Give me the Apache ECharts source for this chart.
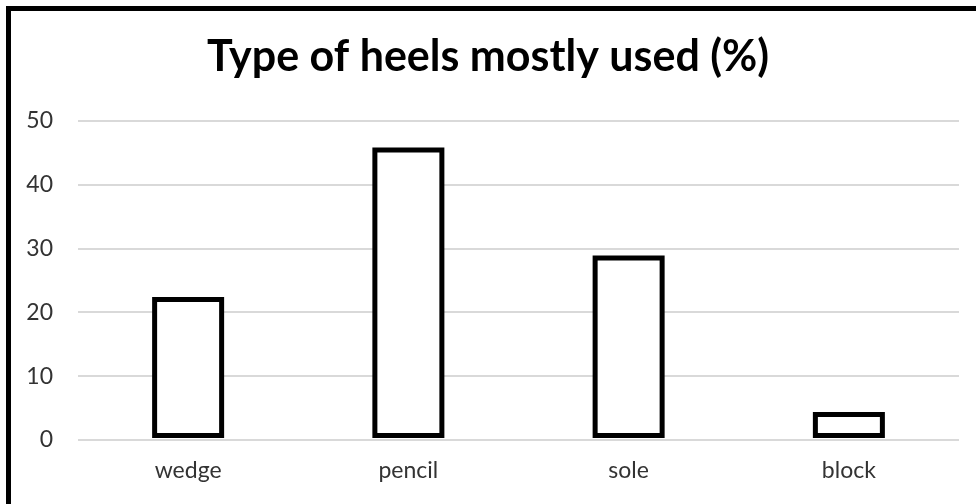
<!DOCTYPE html>
<html>
<head>
<meta charset="utf-8">
<script src="https://cdn.jsdelivr.net/npm/echarts@6/dist/echarts.min.js"></script>
<style>
  html, body { margin: 0; padding: 0; background: #fff; }
  #chart { width: 976px; height: 504px; }
</style>
</head>
<body>
<div id="chart"></div>
<script>
// Heel types and the share of respondents using each (%)
const categories = ['wedge', 'pencil', 'sole', 'block'];
const shares = [22, 45.4, 28.5, 4];
const yTicks = { min: 0, max: 50, interval: 10 };

const chart = echarts.init(document.getElementById('chart'), null, { renderer: 'canvas' });

// Outlined column: stroke centred on the value edge, base kept just above the zero line
function renderColumn(params, api) {
  const top = api.coord([api.value(0), api.value(1)]);
  const base = api.coord([api.value(0), 0]);
  const w = 67;
  return {
    type: 'rect',
    shape: { x: top[0] - w / 2, y: top[1], width: w, height: base[1] - top[1] - 4.5 },
    style: { fill: '#ffffff', stroke: '#000000', lineWidth: 5, lineJoin: 'miter' }
  };
}

chart.setOption({
  backgroundColor: '#ffffff',
  animation: false,
  title: {
    text: 'Type of heels mostly used (%)',
    left: 'center',
    top: 31,
    textStyle: {
      fontFamily: 'Lato',
      fontWeight: 'bold',
      fontSize: 43,
      color: '#000000'
    }
  },
  // Thick frame along the top and left edges
  graphic: [{
    type: 'polyline',
    shape: { points: [[8.5, 504], [8.5, 8.5], [976, 8.5]] },
    style: { stroke: '#000000', lineWidth: 5, fill: null, lineJoin: 'miter' },
    silent: true
  }],
  grid: { left: 78, right: 17, top: 120.5, bottom: 64, containLabel: false },
  xAxis: {
    type: 'category',
    data: categories,
    axisLine: { show: false },
    axisTick: { show: false },
    axisLabel: {
      margin: 19,
      fontFamily: 'Lato',
      fontSize: 23,
      color: '#333333'
    }
  },
  yAxis: {
    type: 'value',
    min: yTicks.min,
    max: yTicks.max,
    interval: yTicks.interval,
    axisLine: { show: false },
    axisTick: { show: false },
    axisLabel: {
      margin: 25,
      fontFamily: 'Lato',
      fontSize: 23,
      color: '#333333'
    },
    splitLine: { lineStyle: { color: '#d9d9d9', width: 2 } }
  },
  series: [{
    type: 'custom',
    renderItem: renderColumn,
    encode: { x: 0, y: 1 },
    data: shares.map((v, i) => [i, v])
  }]
});
</script>
</body>
</html>
